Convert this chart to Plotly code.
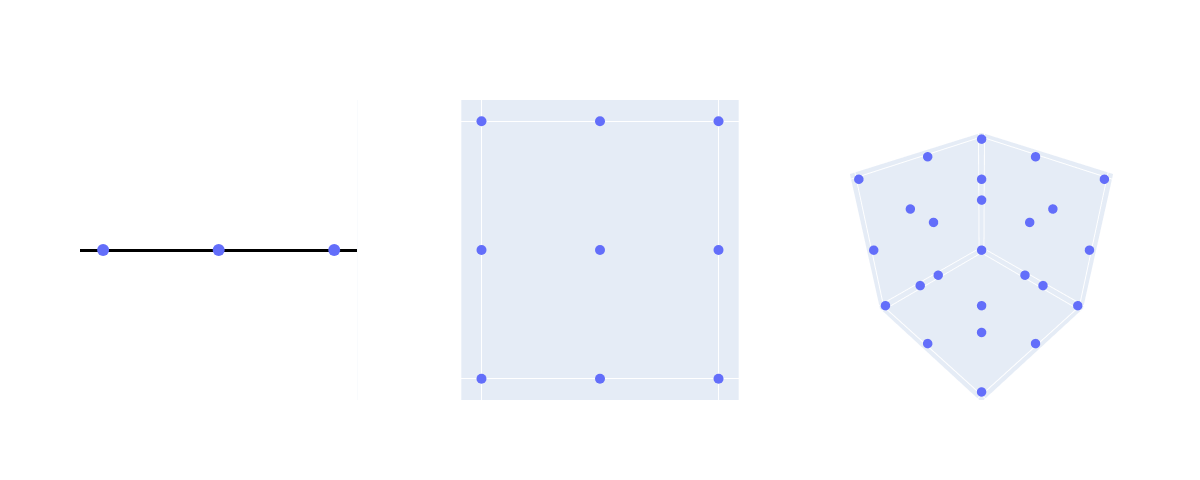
import plotly.graph_objects as go
from plotly.subplots import make_subplots

# 1D points
x1 = [0, 1, 2]
y1 = [0, 0, 0]

# 2D grid points
x2 = [0, 1, 2, 0, 1, 2, 0, 1, 2]
y2 = [0, 0, 0, 1, 1, 1, 2, 2, 2]

# 3D grid points
x3 = [0, 1, 2, 0, 1, 2, 0, 1, 2,
      0, 1, 2, 0, 1, 2, 0, 1, 2,
      0, 1, 2, 0, 1, 2, 0, 1, 2]
y3 = [0, 0, 0, 1, 1, 1, 2, 2, 2,
      0, 0, 0, 1, 1, 1, 2, 2, 2,
      0, 0, 0, 1, 1, 1, 2, 2, 2]
z3 = [0, 0, 0, 0, 0, 0, 0, 0, 0,
      1, 1, 1, 1, 1, 1, 1, 1, 1,
      2, 2, 2, 2, 2, 2, 2, 2, 2]

tick_ends = [0, 2]

fig = make_subplots(rows=1, cols=3,
                    specs=[[{"type": "xy"}, {"type": "xy"}, {"type": "scene"}]],
                    horizontal_spacing=0.1)

marker_color = "#636efa"
fig.add_trace(go.Scatter(x=x1, y=y1, mode="markers",
                         marker=dict(size=12, color=marker_color)), row=1, col=1)
fig.add_trace(go.Scatter(x=x2, y=y2, mode="markers",
                         marker=dict(size=10, color=marker_color)), row=1, col=2)
fig.add_trace(go.Scatter3d(x=x3, y=y3, z=z3, mode="markers",
                           marker=dict(size=5.5, color=marker_color)), row=1, col=3)

# white background for the 1D panel
fig.add_shape(type="rect", xref="x domain", yref="y domain", x0=0, x1=1, y0=0, y1=1,
              fillcolor="white", line=dict(width=0), layer="below")

fig.update_xaxes(range=[-0.2, 2.2], showgrid=False, zeroline=False,
                 showticklabels=False, row=1, col=1)
fig.update_yaxes(range=[-1, 1], showgrid=False, zeroline=True, zerolinecolor="black",
                 zerolinewidth=3, showticklabels=False, row=1, col=1)

fig.update_xaxes(range=[-0.17, 2.17], tickvals=tick_ends, zeroline=False,
                 showticklabels=False, row=1, col=2)
fig.update_yaxes(range=[-0.165, 2.165], tickvals=tick_ends, zeroline=False,
                 showticklabels=False, row=1, col=2)

ax3 = dict(tickvals=tick_ends, showticklabels=False, title=dict(text=""))
fig.update_scenes(xaxis=ax3, yaxis=ax3, zaxis=ax3,
                  camera=dict(eye=dict(x=1.29, y=1.29, z=1.29)))

fig.update_layout(width=1184, height=464, showlegend=False,
                  margin=dict(l=72, r=72, t=92, b=72))

fig.write_html("out.html")
